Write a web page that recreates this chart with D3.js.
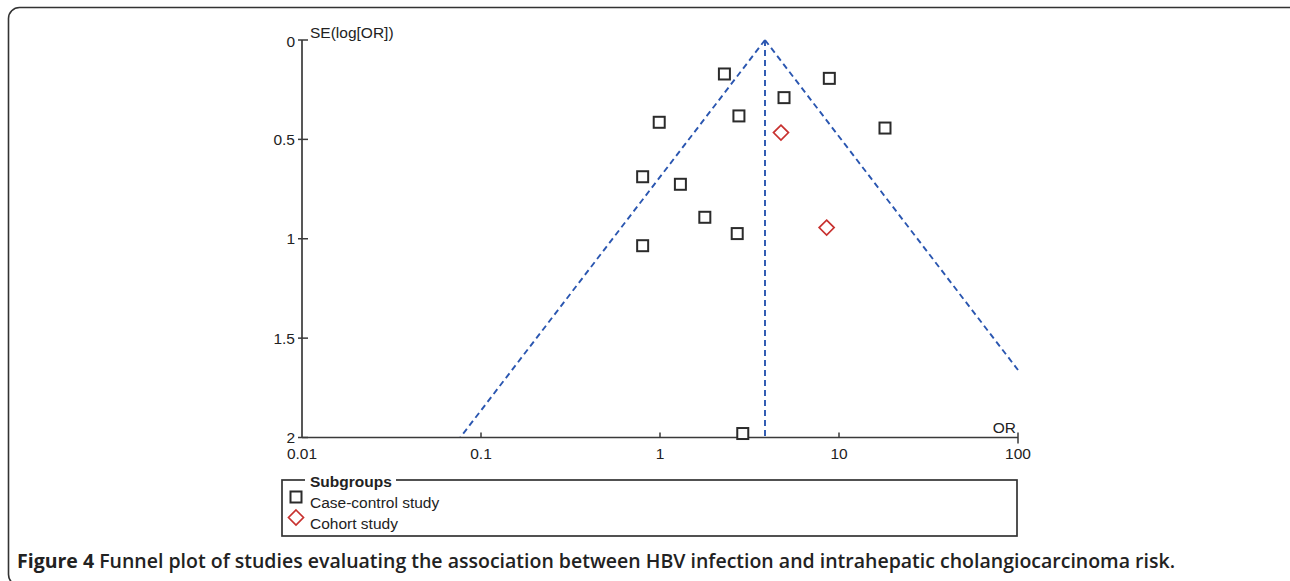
<!DOCTYPE html>
<html>
<head>
<meta charset="utf-8">
<script src="https://cdn.jsdelivr.net/npm/d3@7"></script>
<style>
  html, body { margin: 0; padding: 0; background: #fff; }
  svg { display: block; }
  text { font-family: "Liberation Sans", Arial, sans-serif; fill: #222; }
</style>
</head>
<body>
<svg id="chart" width="1290" height="581"></svg>
<script>
// ---- data ----
const studyOR  = [2.29, 8.83, 4.93, 0.99, 2.76, 18.07, 0.80, 1.30, 1.78, 2.70, 0.80, 2.90, 4.74, 8.53];
const studySE  = [0.171, 0.193, 0.290, 0.414, 0.382, 0.443, 0.688, 0.726, 0.892, 0.974, 1.035, 1.98, 0.466, 0.944];
const studyGroup = ["Case-control study","Case-control study","Case-control study","Case-control study",
  "Case-control study","Case-control study","Case-control study","Case-control study","Case-control study",
  "Case-control study","Case-control study","Case-control study","Cohort study","Cohort study"];
const subgroups = ["Case-control study", "Cohort study"];
const pooledOR = 3.86;
const xTicks = [0.01, 0.1, 1, 10, 100];
const xTickLabels = ["0.01", "0.1", "1", "10", "100"];
const yTicks = [0, 0.5, 1, 1.5, 2];
const yTickLabels = ["0", "0.5", "1", "1.5", "2"];
const caption = "Figure 4";
const captionRest = " Funnel plot of studies evaluating the association between HBV infection and intrahepatic cholangiocarcinoma risk.";

// ---- layout ----
const svg = d3.select("#chart");
const x = d3.scaleLog().domain([0.01, 100]).range([302, 1018]);
const y = d3.scaleLinear().domain([0, 2]).range([40, 437.5]);
const axisColor = "#3a3a3a";
const blue = "#2a56b0";
const red = "#c8312f";
const fs = 15.5;

// outer rounded frame
svg.append("rect").attr("x", 8.5).attr("y", 7.5).attr("width", 1292).attr("height", 578)
  .attr("rx", 11).attr("fill", "none").attr("stroke", "#333").attr("stroke-width", 1.6);

// funnel lines
const z = 1.96;
const lp = Math.log(pooledOR);
const seMaxLeft = 2;
const leftEnd = Math.exp(lp - z * seMaxLeft);
const seRight = (Math.log(100) - lp) / z;
const funnel = svg.append("g").attr("fill", "none").attr("stroke", blue)
  .attr("stroke-width", 1.9).attr("stroke-dasharray", "6,4");
funnel.append("line").attr("x1", x(pooledOR)).attr("y1", y(0)).attr("x2", x(leftEnd)).attr("y2", y(seMaxLeft));
funnel.append("line").attr("x1", x(pooledOR)).attr("y1", y(0)).attr("x2", x(100)).attr("y2", y(seRight));
funnel.append("line").attr("x1", x(pooledOR)).attr("y1", y(0)).attr("x2", x(pooledOR)).attr("y2", y(2));

// y axis
const yAxisG = svg.append("g");
yAxisG.append("line").attr("x1", 302).attr("x2", 302).attr("y1", y(0)).attr("y2", y(2))
  .attr("stroke", axisColor).attr("stroke-width", 1.7);
yTicks.forEach((t, i) => {
  yAxisG.append("line").attr("x1", 298).attr("x2", 308).attr("y1", y(t)).attr("y2", y(t))
    .attr("stroke", axisColor).attr("stroke-width", 1.5);
  yAxisG.append("text").attr("x", 295).attr("y", y(t) + 5.5 + (i === 0 ? 1 : 0))
    .attr("text-anchor", "end").attr("font-size", fs).text(yTickLabels[i]);
});
svg.append("text").attr("x", 310).attr("y", 38).attr("font-size", fs).text("SE(log[OR])");

// x axis
const xAxisG = svg.append("g");
xAxisG.append("line").attr("x1", x(0.01)).attr("x2", x(100)).attr("y1", y(2)).attr("y2", y(2))
  .attr("stroke", axisColor).attr("stroke-width", 1.7);
xTicks.forEach((t, i) => {
  const up = 5, down = (t === 100 ? 6 : 0);
  if (t !== 0.01) {
    xAxisG.append("line").attr("x1", x(t)).attr("x2", x(t)).attr("y1", y(2) - up).attr("y2", y(2) + down)
      .attr("stroke", axisColor).attr("stroke-width", 1.5);
  }
  xAxisG.append("text").attr("x", x(t)).attr("y", 459).attr("text-anchor", "middle")
    .attr("font-size", fs).text(xTickLabels[i]);
});
svg.append("text").attr("x", 1016).attr("y", 433).attr("text-anchor", "end").attr("font-size", fs).text("OR");

// markers
const sq = 11;
function drawMarker(g, group, cx, cy) {
  if (group === "Cohort study") {
    const h = 7.5;
    g.append("path").attr("d", `M${cx},${cy - h}L${cx + h},${cy}L${cx},${cy + h}L${cx - h},${cy}Z`)
      .attr("fill", "#fff").attr("stroke", red).attr("stroke-width", 1.7);
  } else {
    g.append("rect").attr("x", cx - sq / 2).attr("y", cy - sq / 2).attr("width", sq).attr("height", sq)
      .attr("fill", "#fff").attr("stroke", "#2b2b2b").attr("stroke-width", 2);
  }
}
const pts = svg.append("g");
studyOR.forEach((or, i) => drawMarker(pts, studyGroup[i], x(or), y(studySE[i])));

// legend
const lg = svg.append("g");
lg.append("rect").attr("x", 282).attr("y", 480).attr("width", 735).attr("height", 56)
  .attr("fill", "none").attr("stroke", "#333").attr("stroke-width", 1.7);
lg.append("rect").attr("x", 305).attr("y", 474).attr("width", 91).attr("height", 12).attr("fill", "#fff");
lg.append("text").attr("x", 310).attr("y", 487).attr("font-size", fs).attr("font-weight", "bold").text("Subgroups");
subgroups.forEach((s, i) => {
  const cy = 497 + i * 20.5;
  drawMarker(lg, s, 296, cy);
  lg.append("text").attr("x", 310).attr("y", 507.5 + i * 21).attr("font-size", fs).text(s);
});

// caption
const cap = svg.append("text").attr("x", 17).attr("y", 568).attr("font-size", 19)
  .attr("textLength", 1158).attr("lengthAdjust", "spacingAndGlyphs")
  .style("font-family", "'Open Sans', 'Liberation Sans', sans-serif");
cap.append("tspan").attr("font-weight", "bold").text(caption);
cap.append("tspan").attr("font-weight", 600).text(captionRest);
</script>
</body>
</html>
